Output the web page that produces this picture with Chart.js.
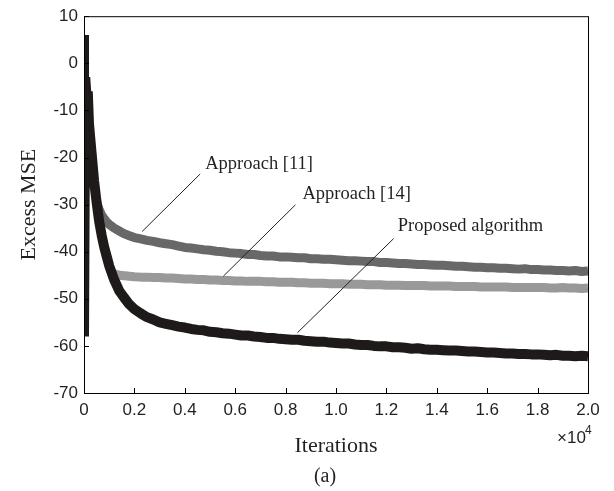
<!DOCTYPE html>
<html>
<head>
<meta charset="utf-8">
<script src="https://cdn.jsdelivr.net/npm/chart.js@4.4.1/dist/chart.umd.min.js"></script>
<style>
  body { margin: 0; background: #fff; }
  .wrap { width: 614px; height: 491px; position: relative; }
</style>
</head>
<body>
<div class="wrap"><canvas id="mseChart"></canvas></div>
<script>
/* Data (iterations in units of 10^4) */
const iters = [0, 0, 0.005, 0.01, 0.015, 0.02, 0.03, 0.04, 0.05, 0.06, 0.07, 0.08, 0.09, 0.1, 0.12, 0.14, 0.16, 0.18,
  0.2, 0.225, 0.25, 0.275, 0.3, 0.325, 0.35, 0.375, 0.4, 0.425, 0.45, 0.475, 0.5, 0.525, 0.55, 0.575,
  0.6, 0.625, 0.65, 0.675, 0.7, 0.725, 0.75, 0.775, 0.8, 0.825, 0.85, 0.875, 0.9, 0.925, 0.95, 0.975,
  1.0, 1.025, 1.05, 1.075, 1.1, 1.125, 1.15, 1.175, 1.2, 1.225, 1.25, 1.275, 1.3, 1.325, 1.35, 1.375,
  1.4, 1.425, 1.45, 1.475, 1.5, 1.525, 1.55, 1.575, 1.6, 1.625, 1.65, 1.675, 1.7, 1.725, 1.75, 1.775,
  1.8, 1.825, 1.85, 1.875, 1.9, 1.925, 1.95, 1.975, 2.0];

const proposed = [6, -58, -3, -7, -6, -13, -19, -25, -29.5, -33.5, -36.5, -39, -41, -43, -46, -48.3, -49.8, -51.2,
  -52.2, -53.1, -53.9, -54.4, -55.0, -55.3, -55.6, -55.9, -56.1, -56.4, -56.6, -56.7, -57.0, -57.1, -57.3, -57.4,
  -57.6, -57.8, -57.8, -58.0, -58.1, -58.3, -58.3, -58.5, -58.6, -58.7, -58.7, -58.9, -59.0, -59.1, -59.1, -59.3,
  -59.4, -59.5, -59.5, -59.7, -59.8, -59.8, -60.0, -60.1, -60.1, -60.3, -60.3, -60.4, -60.6, -60.5, -60.7, -60.8,
  -60.8, -60.9, -61.0, -61.0, -61.1, -61.2, -61.2, -61.3, -61.4, -61.4, -61.5, -61.6, -61.6, -61.7, -61.7, -61.8,
  -61.8, -61.9, -62.0, -61.9, -62.1, -62.1, -62.2, -62.1, -62.2];

const approach11 = [null, null, null, null, null, null, null, null, -29.5, -31.0, -32.2, -33.0, -33.7, -34.2, -35.0, -35.6, -36.2, -36.6,
  -37.0, -37.3, -37.6, -37.8, -38.1, -38.3, -38.5, -38.8, -39.1, -39.2, -39.4, -39.6, -39.7, -39.9, -40.0, -40.2,
  -40.3, -40.4, -40.6, -40.6, -40.8, -40.9, -40.9, -41.1, -41.1, -41.2, -41.3, -41.3, -41.5, -41.5, -41.6, -41.6,
  -41.7, -41.8, -41.9, -41.9, -42.0, -42.1, -42.1, -42.3, -42.3, -42.4, -42.5, -42.5, -42.6, -42.7, -42.7, -42.8,
  -42.9, -42.9, -43.0, -43.1, -43.1, -43.2, -43.3, -43.3, -43.4, -43.4, -43.5, -43.5, -43.6, -43.7, -43.6, -43.8,
  -43.8, -43.9, -43.9, -44.0, -44.0, -44.1, -44.0, -44.2, -44.1];

const approach14 = [null, null, null, null, null, null, null, null, null, null, null, null, null, -44.0, -44.7, -45.0, -45.1, -45.2,
  -45.3, -45.4, -45.4, -45.5, -45.5, -45.6, -45.6, -45.7, -45.8, -45.8, -45.9, -45.9, -46.0, -46.0, -46.1, -46.1,
  -46.2, -46.2, -46.3, -46.3, -46.3, -46.4, -46.4, -46.5, -46.5, -46.5, -46.6, -46.6, -46.7, -46.7, -46.7, -46.8,
  -46.8, -46.8, -46.9, -46.9, -46.9, -47.0, -47.0, -47.0, -47.1, -47.1, -47.1, -47.2, -47.2, -47.2, -47.2, -47.3,
  -47.3, -47.3, -47.3, -47.4, -47.4, -47.4, -47.4, -47.5, -47.5, -47.5, -47.5, -47.5, -47.6, -47.6, -47.6, -47.6,
  -47.6, -47.6, -47.7, -47.7, -47.6, -47.7, -47.7, -47.8, -47.7];

const xTicks = [0, 0.2, 0.4, 0.6, 0.8, 1.0, 1.2, 1.4, 1.6, 1.8, 2.0];
const yTicks = [-70, -60, -50, -40, -30, -20, -10, 0, 10];

/* Annotations: label, text anchor, leader line from/to (data coords) */
const noteLabels = ["Approach [11]", "Approach [14]", "Proposed algorithm"];
const noteText = [[0.481, -22.5], [0.867, -28.8], [1.245, -35.7]];
const noteFrom = [[0.461, -23.5], [0.839, -30.05], [1.229, -37.2]];
const noteTo = [[0.231, -35.7], [0.553, -45.2], [0.847, -57.2]];

function toPoints(ys) {
  return iters.map((x, i) => ({ x: x, y: ys[i] }));
}

/* Frame, inward ticks, annotations and titles */
const decor = {
  id: "decor",
  afterDatasetsDraw(chart) {
    const { ctx, chartArea: a, scales } = chart;
    const sx = scales.x;
    const sy = scales.y;
    ctx.save();
    ctx.strokeStyle = "#000";
    ctx.lineWidth = 1;
    ctx.strokeRect(a.left + 0.5, a.top + 0.5, a.right - a.left, a.bottom - a.top);

    ctx.beginPath();
    xTicks.forEach((v) => {
      const px = Math.round(sx.getPixelForValue(v)) + 0.5;
      ctx.moveTo(px, a.bottom);
      ctx.lineTo(px, a.bottom - 5);
    });
    yTicks.forEach((v) => {
      const py = Math.round(sy.getPixelForValue(v)) + 0.5;
      ctx.moveTo(a.left, py);
      ctx.lineTo(a.left + 5, py);
    });
    ctx.stroke();

    // leader lines + labels
    ctx.strokeStyle = "#222";
    ctx.lineWidth = 1;
    ctx.fillStyle = "#231f20";
    ctx.font = "18.5px 'Liberation Serif', 'Times New Roman', serif";
    ctx.textAlign = "left";
    ctx.textBaseline = "alphabetic";
    noteLabels.forEach((label, i) => {
      ctx.beginPath();
      ctx.moveTo(sx.getPixelForValue(noteFrom[i][0]), sy.getPixelForValue(noteFrom[i][1]));
      ctx.lineTo(sx.getPixelForValue(noteTo[i][0]), sy.getPixelForValue(noteTo[i][1]));
      ctx.stroke();
      ctx.fillText(label, sx.getPixelForValue(noteText[i][0]), sy.getPixelForValue(noteText[i][1]));
    });
    ctx.restore();
  },
  afterDraw(chart) {
    const { ctx, chartArea: a } = chart;
    ctx.save();
    ctx.fillStyle = "#231f20";
    ctx.font = "22px 'Liberation Serif', 'Times New Roman', serif";
    ctx.textAlign = "center";
    ctx.textBaseline = "alphabetic";
    ctx.fillText("Iterations", (a.left + a.right) / 2, 452);
    ctx.font = "20px 'Liberation Serif', 'Times New Roman', serif";
    ctx.fillText("(a)", 325, 482);

    ctx.save();
    ctx.translate(35, (a.top + a.bottom) / 2);
    ctx.rotate(-Math.PI / 2);
    ctx.font = "22px 'Liberation Serif', 'Times New Roman', serif";
    ctx.fillText("Excess MSE", 0, 0);
    ctx.restore();

    ctx.font = "17px 'Liberation Sans', Arial, sans-serif";
    ctx.textAlign = "left";
    ctx.fillText("\u00d710", 557, 443);
    ctx.font = "12px 'Liberation Sans', Arial, sans-serif";
    ctx.fillText("4", 585, 434);
    ctx.restore();
  },
};

const ctx = document.getElementById("mseChart").getContext("2d");

const data = {
  datasets: [
    {
      label: "Proposed algorithm",
      data: toPoints(proposed),
      borderColor: "#1e1a1a",
      borderWidth: 10,
    },
    {
      label: "Approach [11]",
      data: toPoints(approach11),
      borderColor: "#686868",
      borderWidth: 9,
    },
    {
      label: "Approach [14]",
      data: toPoints(approach14),
      borderColor: "#999999",
      borderWidth: 9,
    },
  ],
};

const tickFont = { family: "'Liberation Sans', Arial, sans-serif", size: 17 };

const config = {
  type: "line",
  data: data,
  options: {
    responsive: true,
    maintainAspectRatio: false,
    animation: false,
    spanGaps: false,
    elements: {
      point: { radius: 0 },
      line: { tension: 0, borderJoinStyle: "bevel", borderCapStyle: "butt" },
    },
    layout: { padding: { left: 0, right: 26, top: 12, bottom: 0 } },
    plugins: {
      legend: { display: false },
      tooltip: { enabled: false },
    },
    scales: {
      x: {
        type: "linear",
        min: 0,
        max: 2.0,
        grid: { display: false, drawTicks: false },
        border: { display: false },
        afterBuildTicks: function (scale) {
          scale.ticks = xTicks.map((v) => ({ value: v }));
        },
        afterFit: function (scale) {
          scale.height = 98;
        },
        ticks: {
          color: "#231f20",
          font: tickFont,
          padding: 7,
          maxRotation: 0,
          autoSkip: false,
          callback: function (value) {
            return value === 0 ? "0" : value.toFixed(1);
          },
        },
      },
      y: {
        min: -70,
        max: 10,
        grid: { display: false, drawTicks: false },
        border: { display: false },
        afterBuildTicks: function (scale) {
          scale.ticks = yTicks.map((v) => ({ value: v }));
        },
        afterFit: function (scale) {
          scale.width = 84;
        },
        ticks: {
          color: "#231f20",
          font: tickFont,
          padding: 6,
          autoSkip: false,
        },
      },
    },
  },
  plugins: [decor],
};

const mseChart = new Chart(ctx, config);
</script>
</body>
</html>
